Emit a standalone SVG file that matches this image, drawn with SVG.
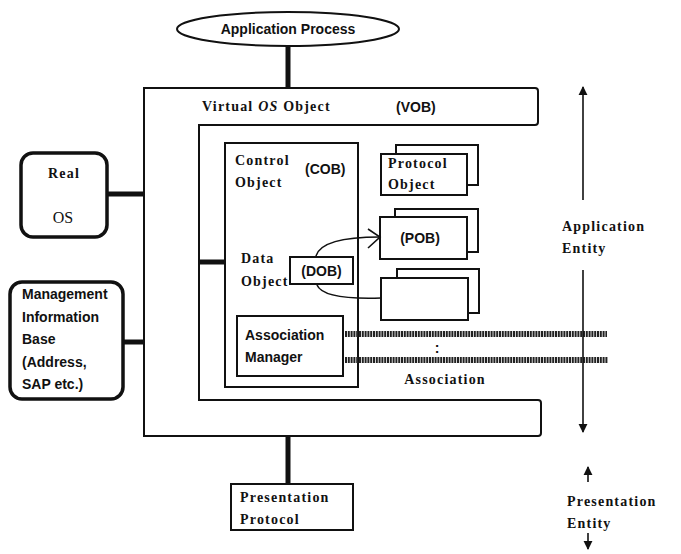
<svg xmlns="http://www.w3.org/2000/svg" width="681" height="554" viewBox="0 0 681 554">
<style>
.box{fill:#fff;stroke:#111;stroke-width:2}
.rbox{fill:#fff;stroke:#111;stroke-width:3.5}
.thick{stroke:#111;stroke-width:5;fill:none}
.thin{stroke:#111;stroke-width:1.6;fill:none}
.sans{font-family:"Liberation Sans",Arial,sans-serif;font-size:14px;font-weight:bold;fill:#111}
.serif{font-family:"Liberation Serif","Times New Roman",serif;font-size:14px;font-weight:bold;letter-spacing:1.2px;fill:#111}
.hatch{stroke:#222;stroke-width:6;stroke-dasharray:2 0.8;fill:none}
</style>
<defs>
<marker id="tri" viewBox="0 0 10 10" refX="9" refY="5" markerWidth="9" markerHeight="11" markerUnits="userSpaceOnUse" orient="auto">
<path d="M0,0 L10,5 L0,10 Z" fill="#111"/>
</marker>
</defs>

<g id="app-process">
<ellipse cx="288" cy="29" rx="111" ry="17" class="box"/>
<text x="288" y="34" class="sans" text-anchor="middle">Application Process</text>
</g>

<g id="vob">
<path class="box" d="M144,88 H535 Q538,88 538,91 V122 Q538,125 535,125 H199 V400 H538 Q541,400 541,403 V433 Q541,436 538,436 H144 Z"/>
<text x="202" y="111" class="serif">Virtual <tspan font-style="italic">OS</tspan> Object</text>
<text x="396" y="112" class="sans">(VOB)</text>
</g>

<g id="cob">
<rect x="225" y="143" width="133" height="244" class="box"/>
<text x="235" y="165" class="serif">Control</text>
<text x="235" y="187" class="serif">Object</text>
<text x="305" y="174" class="sans">(COB)</text>
</g>

<g id="data-object">
<text x="241" y="263" class="serif">Data</text>
<text x="241" y="286" class="serif">Object</text>
</g>

<g id="dob">
<rect x="290" y="257" width="63" height="27" class="box"/>
<text x="321.5" y="276" class="sans" text-anchor="middle">(DOB)</text>
</g>

<g id="protocol-object">
<rect x="396" y="145" width="82" height="40" class="box"/>
<rect x="381" y="154" width="86" height="41" class="box"/>
<text x="388" y="168" class="serif">Protocol</text>
<text x="388" y="189" class="serif">Object</text>
</g>

<g id="pob">
<rect x="395" y="209" width="83" height="43" class="box"/>
<rect x="380" y="217" width="87" height="42" class="box"/>
<text x="420" y="243" class="sans" text-anchor="middle">(POB)</text>
</g>

<g id="object3">
<rect x="397" y="269" width="82" height="44" class="box"/>
<rect x="381" y="278" width="87" height="42" class="box"/>
</g>

<g id="assoc-manager">
<rect x="237" y="316" width="106" height="60" class="box"/>
<text x="245" y="340" class="sans">Association</text>
<text x="245" y="362" class="sans">Manager</text>
</g>

<g id="association">
<text x="437" y="353" class="sans" text-anchor="middle">:</text>
<text x="445" y="384" class="serif" text-anchor="middle">Association</text>
</g>

<g id="real-os">
<rect x="21" y="153" width="86" height="84" rx="12" class="rbox"/>
<text x="64" y="178" class="serif" text-anchor="middle">Real</text>
<text x="63" y="223" font-family="Liberation Serif, serif" font-size="16" text-anchor="middle" fill="#111">OS</text>
</g>

<g id="mib">
<rect x="10" y="282" width="113" height="117" rx="12" class="rbox"/>
<text x="22" y="299" class="sans">Management</text>
<text x="22" y="322" class="sans">Information</text>
<text x="22" y="344" class="sans">Base</text>
<text x="22" y="367" class="sans">(Address,</text>
<text x="22" y="389" class="sans">SAP etc.)</text>
</g>

<g id="presentation-protocol">
<rect x="231" y="484" width="122" height="46" class="box"/>
<text x="240" y="502" class="serif">Presentation</text>
<text x="240" y="524" class="serif">Protocol</text>
</g>

<g id="application-entity">
<text x="562" y="231" class="serif">Application</text>
<text x="562" y="253" class="serif">Entity</text>
</g>

<g id="presentation-entity">
<text x="567" y="506" class="serif">Presentation</text>
<text x="567" y="528" class="serif">Entity</text>
</g>

<g id="connectors">
<line class="thick" x1="288" y1="46" x2="288" y2="89"/>
<line class="thick" x1="288" y1="437" x2="288" y2="484"/>
<line class="thick" x1="108" y1="194" x2="144" y2="194"/>
<line class="thick" x1="124" y1="342" x2="144" y2="342"/>
<line class="thick" x1="199" y1="262" x2="225" y2="262"/>
<path class="thin" d="M316,256 C320,242 345,237 380,237"/>
<path class="thin" d="M368,229 L380,237 L368,248"/>
<path class="thin" d="M317,285 C322,297 350,299 381,298"/>
<line class="hatch" x1="345" y1="334" x2="607" y2="334"/>
<line class="hatch" x1="345" y1="360" x2="608" y2="360"/>
<line class="thin" x1="583" y1="200" x2="583" y2="87" marker-end="url(#tri)"/>
<line class="thin" x1="583" y1="270" x2="583" y2="432" marker-end="url(#tri)"/>
<line class="thin" x1="588" y1="482" x2="588" y2="467" marker-end="url(#tri)"/>
<line class="thin" x1="588" y1="533" x2="588" y2="549" marker-end="url(#tri)"/>
</g>
</svg>
